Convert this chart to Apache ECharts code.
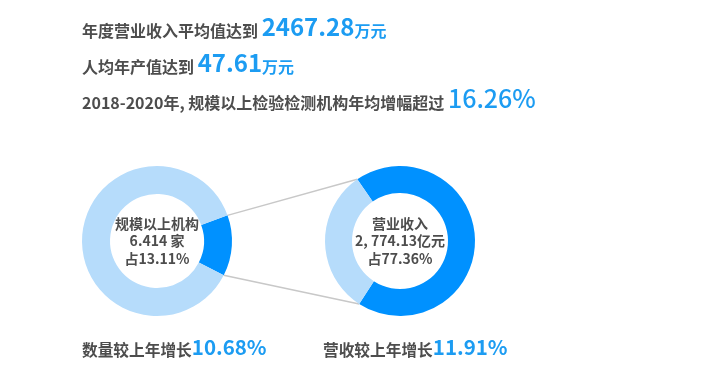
<!DOCTYPE html>
<html lang="zh-CN">
<head>
    <meta charset="UTF-8">
    <title>检验检测机构</title>
    <script src="https://cdn.jsdelivr.net/npm/echarts@6/dist/echarts.min.js"></script>
    <style>
        html, body { margin: 0; padding: 0; background: #fff; }
        #main { width: 714px; height: 378px; }
    </style>
</head>
<body>
<div id="main"></div>
<script type="text/javascript">
    // 文字数据
    var headTexts = ['年度营业收入平均值达到 ', '人均年产值达到 ', '2018-2020年, 规模以上检验检测机构年均增幅超过 '];
    var headValues = ['2467.28', '47.61', '16.26%'];
    var headUnits = ['万元', '万元', ''];

    // 饼图数据（按图中扇区读取）
    var orgNames = ['规模以上机构', '其他'];
    var orgValues = [13.11, 86.89];
    var revNames = ['营业收入', '其他'];
    var revValues = [68.8, 31.2];

    var orgLabel = ['规模以上机构', '6.414 家', '占13.11%'];
    var revLabel = ['营业收入', '2, 774.13亿元', '占77.36%'];

    var footTexts = ['数量较上年增长', '营收较上年增长'];
    var footValues = ['10.68%', '11.91%'];

    var dark = '#0091ff';
    var light = '#b6dcfb';
    var blue = '#1c9cf2';
    var gray = '#4d4d4d';
    var font = '"Noto Sans CJK SC", "Noto Sans", sans-serif';

    var leftC = [157, 241], rightC = [400, 241];
    var outerR = 75;
    var leftStart = 20, rightStart = 124.7;

    function sum(a) { return a.reduce(function (s, v) { return s + v; }, 0); }
    function pt(c, r, deg) {
        var a = deg * Math.PI / 180;
        return [c[0] + r * Math.cos(a), c[1] - r * Math.sin(a)];
    }

    var myChart = echarts.init(document.getElementById('main'));

    var richHead = {
        a: {fontSize: 16, fontWeight: 'bold', fill: gray, fontFamily: font, verticalAlign: 'bottom'},
        b: {fontSize: 24, fontWeight: 'bold', fill: blue, fontFamily: font, verticalAlign: 'bottom'},
        p: {fontSize: 25, fontWeight: 500, fill: blue, fontFamily: font, verticalAlign: 'bottom'},
        c: {fontSize: 16, fontWeight: 'bold', fill: blue, fontFamily: font, verticalAlign: 'bottom'}
    };
    var heads = [];
    var headTops = [15, 51, 86];
    for (var i = 0; i < headTexts.length; i++) {
        var big = headUnits[i] ? 'b' : 'p';
        heads.push({
            type: 'text', left: 82, top: headTops[i],
            style: {
                text: '{a|' + headTexts[i] + '}{' + big + '|' + headValues[i] + '}' + (headUnits[i] ? '{c|' + headUnits[i] + '}' : ''),
                rich: richHead
            }
        });
    }

    var richFoot = {
        a: {fontSize: 15.7, fontWeight: 'bold', fill: gray, fontFamily: font, verticalAlign: 'bottom'},
        b: {fontSize: 20.5, fontWeight: 'bold', fill: blue, fontFamily: font, verticalAlign: 'bottom'}
    };
    var footLeft = [82, 323];
    var foots = footTexts.map(function (t, k) {
        return {
            type: 'text', left: footLeft[k], top: 337,
            style: {text: '{a|' + t + '}{b|' + footValues[k] + '}', rich: richFoot}
        };
    });

    // 连接线：左侧深色扇区两端 -> 右侧浅色扇区两端
    var leftEnd = leftStart - orgValues[0] / sum(orgValues) * 360;
    var rightEnd = rightStart - revValues[0] / sum(revValues) * 360;
    var p1 = pt(leftC, outerR, leftStart), p2 = pt(rightC, outerR, rightStart);
    var p3 = pt(leftC, outerR, leftEnd), p4 = pt(rightC, outerR, rightEnd);
    var lineStyle = {stroke: '#c8c8c8', lineWidth: 1.5};
    var links = [
        {type: 'line', shape: {x1: p1[0], y1: p1[1], x2: p2[0], y2: p2[1]}, style: lineStyle, z: 0},
        {type: 'line', shape: {x1: p3[0], y1: p3[1], x2: p4[0], y2: p4[1]}, style: lineStyle, z: 0}
    ];

    function centerText(c, lines) {
        return {
            type: 'text', x: c[0], y: c[1], z: 10,
            style: {
                text: lines.join('\n'), fill: gray, fontSize: 14, fontWeight: 'bold',
                fontFamily: font, lineHeight: 17.5, align: 'center', verticalAlign: 'middle'
            }
        };
    }

    myChart.setOption({
        animation: false,
        graphic: heads.concat(foots, links, [centerText(leftC, orgLabel), centerText(rightC, revLabel)]),
        series: [
            {
                type: 'pie', center: leftC, radius: [47, outerR], startAngle: leftStart,
                label: {show: false}, labelLine: {show: false}, silent: true,
                data: orgNames.map(function (n, k) {
                    return {name: n, value: orgValues[k], itemStyle: {color: k === 0 ? dark : light}};
                })
            },
            {
                type: 'pie', center: rightC, radius: [48, outerR], startAngle: rightStart,
                label: {show: false}, labelLine: {show: false}, silent: true,
                data: revNames.map(function (n, k) {
                    return {name: n, value: revValues[k], itemStyle: {color: k === 0 ? dark : light}};
                })
            }
        ]
    });
</script>
</body>
</html>
